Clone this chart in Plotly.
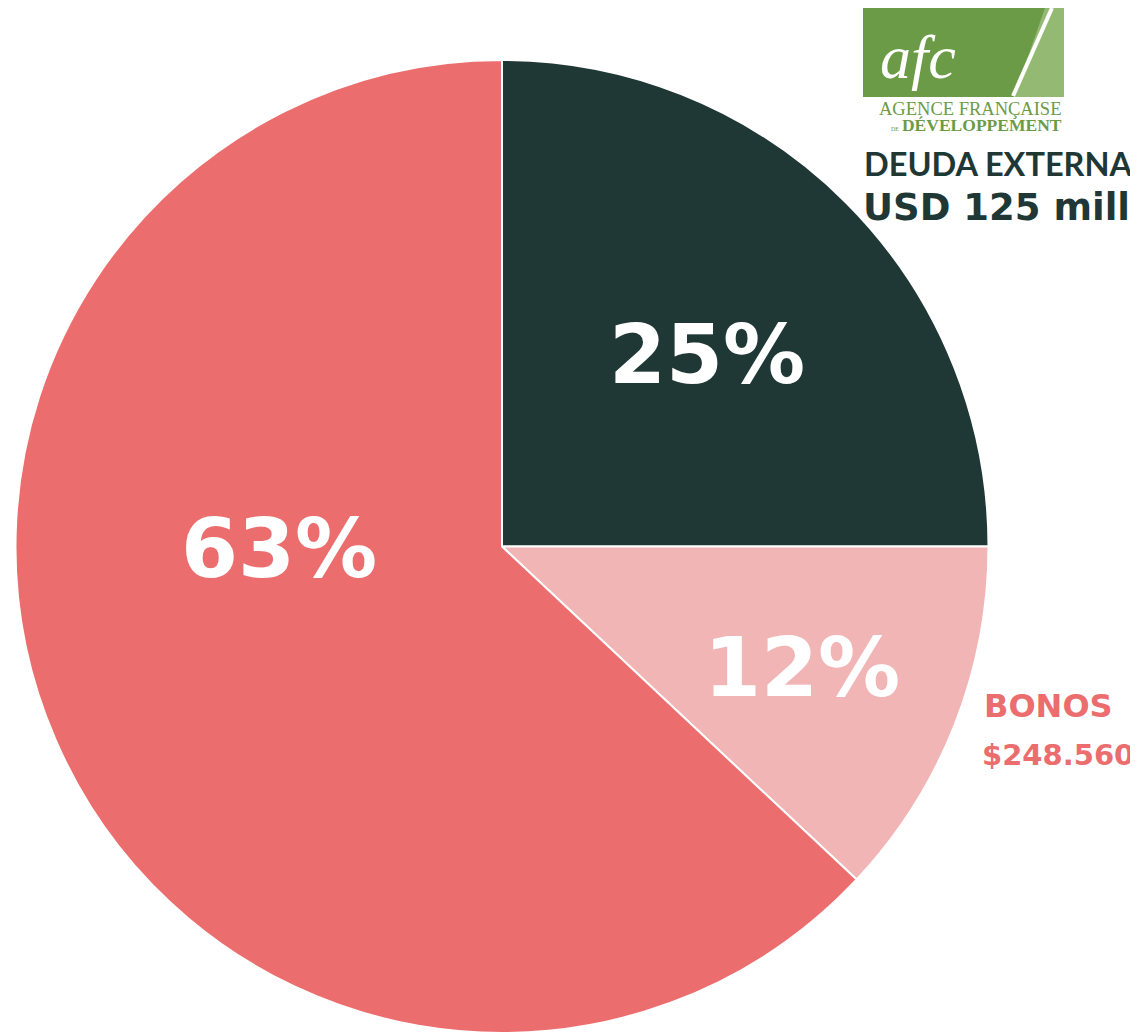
import plotly.graph_objects as go

labels = ["Deuda externa", "Bonos", "Otros"]
values = [25, 12, 63]
pct_text = ["25%", "12%", "63%"]
colors = ["#1f3835", "#f2b5b5", "#ec6d6d"]

# figure sits at page offset (8, 8) because of the default body margin
OFF = 8
W, H = 1130, 1025

def px(x):
    return (x - OFF) / W

def py(y):
    return 1 - (y - OFF) / H

fig = go.Figure()
fig.add_trace(go.Pie(
    labels=labels, values=values, sort=False, direction="clockwise", rotation=0,
    marker=dict(colors=colors, line=dict(color="white", width=2)),
    textinfo="none", hoverinfo="label+percent", showlegend=False,
    domain=dict(x=[px(15), px(989)], y=[0, py(60)]),
))

annotations = []
# percentage labels
pos = [(707, 354), (802, 667), (279, 548)]
for (x, y), t in zip(pos, pct_text):
    annotations.append(dict(x=px(x), y=py(y), xref="paper", yref="paper", text=t, showarrow=False,
                            font=dict(family="DejaVu Sans", size=82, color="white", weight=700),
                            xanchor="center", yanchor="middle"))

# side labels
annotations.append(dict(x=px(998), y=py(163), xref="paper", yref="paper", text="DEUDA EXTERNA",
                        showarrow=False, xanchor="center", yanchor="middle",
                        font=dict(family="Lato, Open Sans", size=32.5, color="#1f3835", weight=700)))
annotations.append(dict(x=px(996), y=py(208), xref="paper", yref="paper", text="USD 125 mill",
                        showarrow=False, xanchor="center", yanchor="middle",
                        font=dict(family="DejaVu Sans", size=37, color="#1f3835", weight=700)))
annotations.append(dict(x=px(982), y=py(706), xref="paper", yref="paper", text="BONOS",
                        showarrow=False, xanchor="left", yanchor="middle",
                        font=dict(family="DejaVu Sans", size=32, color="#ec6d6d", weight=700)))
annotations.append(dict(x=px(980), y=py(755), xref="paper", yref="paper", text="$248.560",
                        showarrow=False, xanchor="left", yanchor="middle",
                        font=dict(family="DejaVu Sans", size=29, color="#ec6d6d", weight=700)))

# logo texts
annotations.append(dict(x=px(918), y=py(57), xref="paper", yref="paper", text="<i>afc</i>",
                        showarrow=False, xanchor="center", yanchor="middle",
                        font=dict(family="Liberation Serif, DejaVu Serif", size=62, color="white")))
annotations.append(dict(
    x=px(1064), y=py(97), xref="paper", yref="paper",
    text=('<span style="font-size:18.5px">AGENCE FRANÇAISE</span><br>'
          '<span style="font-size:6px">DE</span> '
          '<span style="font-size:17.5px"><b>DÉVELOPPEMENT</b></span>'),
    showarrow=False, xanchor="right", yanchor="top", align="right",
    font=dict(family="Liberation Serif, DejaVu Serif", size=12, color="#6b9b46")))

shapes = [
    dict(type="rect", xref="paper", yref="paper", x0=px(863), x1=px(1064), y0=py(97), y1=py(5),
         fillcolor="#6b9b46", line=dict(width=0), layer="below"),
    dict(type="path", xref="paper", yref="paper",
         path=f"M {px(1046)},{py(5)} L {px(1064)},{py(5)} L {px(1064)},{py(97)} L {px(1014)},{py(97)} Z",
         fillcolor="#93b973", line=dict(width=0), layer="below"),
    dict(type="line", xref="paper", yref="paper", x0=px(1052), y0=py(8), x1=px(1013), y1=py(96),
         line=dict(color="white", width=4)),
]

fig.update_layout(
    width=W, height=H, margin=dict(l=0, r=0, t=0, b=0),
    paper_bgcolor="white", plot_bgcolor="white",
    annotations=annotations, shapes=shapes,
)

fig.write_html("out.html")
